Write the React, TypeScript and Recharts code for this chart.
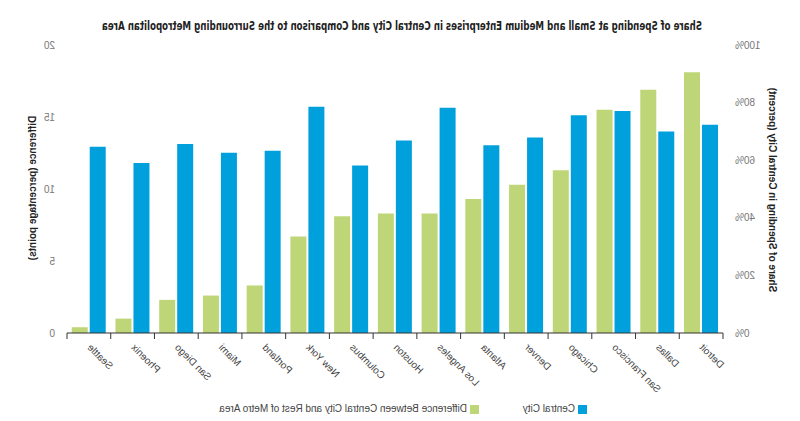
import { BarChart, Bar, XAxis, YAxis } from 'recharts'

const cities = ['Detroit', 'Dallas', 'San Francisco', 'Chicago', 'Denver', 'Atlanta', 'Los Angeles', 'Houston', 'Columbus', 'New York', 'Portland', 'Miami', 'San Diego', 'Phoenix', 'Seattle']
const centralCity = [72.3, 70.0, 77.1, 75.6, 67.9, 65.2, 78.2, 66.8, 58.2, 78.6, 63.3, 62.6, 65.6, 59.0, 64.7]
const difference = [18.1, 16.9, 15.5, 11.3, 10.3, 9.3, 8.3, 8.3, 8.1, 6.7, 3.3, 2.6, 2.3, 1.0, 0.4]
const pctTicks = [0, 20, 40, 60, 80, 100]
const diffTicks = [0, 5, 10, 15, 20]

const BLUE = '#00a0dc'
const GREEN = '#bed677'
const FONT = '"Liberation Sans", Arial, sans-serif'

// plot box (un-mirrored coordinates)
const PLOT_LEFT = 77
const PLOT_RIGHT = 733
const PLOT_TOP = 45
const PLOT_BOTTOM = 333
const AXIS_W = 50

const data = cities.map((c, i) => ({ city: c, central: centralCity[i], diff: difference[i] }))

function CityTick(props: any) {
  const { x, y, payload, index } = props
  const bw = (PLOT_RIGHT - PLOT_LEFT) / cities.length
  const tx = x + 2
  const ty = y + 15
  return (
    <g>
      <line x1={x - bw / 2} x2={x - bw / 2} y1={y} y2={y + 6} stroke="#333" />
      {index === cities.length - 1 && <line x1={x + bw / 2} x2={x + bw / 2} y1={y} y2={y + 6} stroke="#333" />}
      <text x={tx} y={ty} textAnchor="end" transform={`rotate(-45 ${tx} ${ty})`} fontSize={10} fill="#444" fontFamily={FONT}>
        {payload.value}
      </text>
    </g>
  )
}

export default function App() {
  return (
    <div style={{ position: 'absolute', left: 0, top: 0, width: 800, height: 421, background: '#fff', transform: 'scaleX(-1)' }}>
      <BarChart
        width={800}
        height={421}
        data={data}
        barSize={16}
        barGap={2}
        margin={{ top: PLOT_TOP, right: 800 - PLOT_RIGHT - AXIS_W, left: PLOT_LEFT - AXIS_W, bottom: 0 }}
      >
        <XAxis
          dataKey="city"
          interval={0}
          height={421 - PLOT_BOTTOM}
          tickLine={false}
          tickSize={0}
          tickMargin={0}
          axisLine={{ stroke: '#333' }}
          tick={<CityTick />}
        />
        <YAxis
          yAxisId="pct"
          orientation="left"
          width={AXIS_W}
          domain={[0, 100]}
          ticks={pctTicks}
          tickFormatter={(v) => `${v}%`}
          axisLine={false}
          tickLine={false}
          tickSize={0}
          tickMargin={12}
          tick={{ fill: '#777', fontSize: 10, fontFamily: FONT }}
        />
        <YAxis
          yAxisId="diff"
          orientation="right"
          width={AXIS_W}
          domain={[0, 20]}
          ticks={diffTicks}
          axisLine={false}
          tickLine={false}
          tickSize={0}
          tickMargin={12}
          tick={{ fill: '#777', fontSize: 10, fontFamily: FONT }}
        />
        <Bar dataKey="central" yAxisId="pct" fill={BLUE} isAnimationActive={false} />
        <Bar dataKey="diff" yAxisId="diff" fill={GREEN} isAnimationActive={false} />
      </BarChart>

      <svg width={800} height={421} style={{ position: 'absolute', left: 0, top: 0, pointerEvents: 'none' }}>
        <text
          x={398}
          y={29.5}
          textAnchor="middle"
          fontSize={12.5}
          fontWeight="bold"
          fill="#222"
          fontFamily='"Liberation Sans Narrow", "DejaVu Sans Condensed", Arial, sans-serif'
          textLength={600}
          lengthAdjust="spacingAndGlyphs"
        >
          Share of Spending at Small and Medium Enterprises in Central City and Comparison to the Surrounding Metropolitan Area
        </text>
        <text x={31} y={190} textAnchor="middle" transform="rotate(-90 31 190)" fontSize={10} fontWeight="bold" fill="#222" fontFamily={FONT}>
          Share of Spending in Central City (percent)
        </text>
        <text x={764} y={188} textAnchor="middle" transform="rotate(90 764 188)" fontSize={10} fontWeight="bold" fill="#222" fontFamily={FONT}>
          Difference (percentage points)
        </text>
      </svg>

      <div style={{ position: 'absolute', left: 0, top: 402, width: 800, height: 14, fontFamily: FONT, fontSize: 10, color: '#444' }}>
        <div style={{ position: 'absolute', left: 213, top: 2.5, width: 9, height: 9, background: BLUE }} />
        <div style={{ position: 'absolute', left: 225, top: 1, whiteSpace: 'nowrap' }}>Central City</div>
        <div style={{ position: 'absolute', left: 321, top: 2.5, width: 9, height: 9, background: GREEN }} />
        <div style={{ position: 'absolute', left: 333, top: 1, whiteSpace: 'nowrap' }}>Difference Between Central City and Rest of Metro Area</div>
      </div>
    </div>
  )
}
